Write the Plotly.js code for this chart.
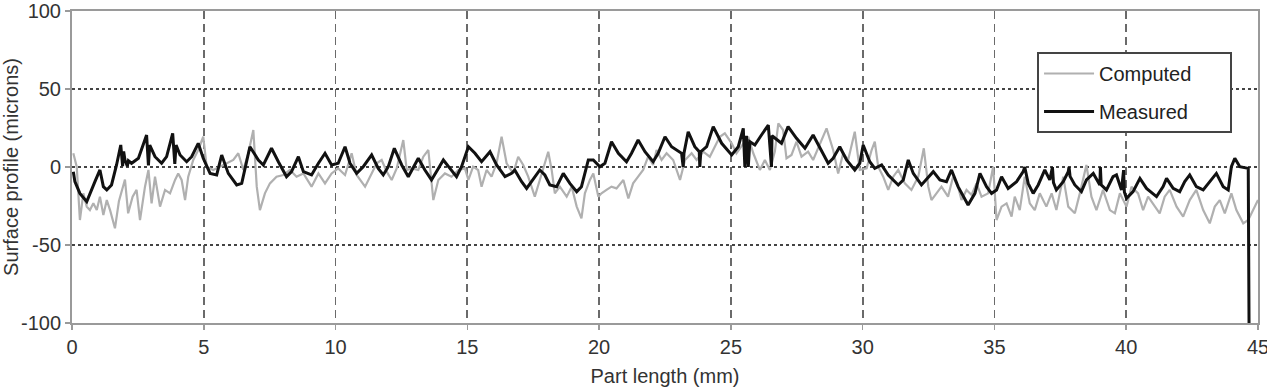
<!DOCTYPE html>
<html>
<head>
<meta charset="utf-8">
<script src="https://cdn.plot.ly/plotly-3.0.1.min.js"></script>
<style>html,body{margin:0;padding:0;background:#fff;}#chart{width:1267px;height:388px;}</style>
</head>
<body>
<div id="chart"></div>
<script>
// Computed surface profile (Part length mm, microns)
const computedX = [0.05,0.18,0.30,0.43,0.56,0.68,0.81,0.94,1.06,1.19,1.32,1.45,1.63,1.78,2.01,2.13,2.30,2.45,2.58,2.77,2.90,3.02,3.15,3.34,3.53,3.72,3.91,4.03,4.16,4.29,4.41,4.60,4.79,4.98,5.11,5.36,5.61,5.87,6.12,6.31,6.50,6.69,6.88,7.01,7.13,7.32,7.51,7.76,8.02,8.27,8.52,8.78,9.09,9.35,9.60,9.85,10.10,10.36,10.61,10.80,11.12,11.37,11.56,11.75,11.94,12.13,12.32,12.57,12.70,12.89,13.14,13.33,13.52,13.71,13.90,14.15,14.40,14.66,14.91,15.04,15.22,15.41,15.54,15.73,15.92,16.11,16.30,16.49,16.74,16.93,17.12,17.31,17.56,17.75,18.07,18.20,18.32,18.51,18.77,18.96,19.15,19.33,19.46,19.65,19.78,19.97,20.09,20.28,20.47,20.66,20.92,21.11,21.29,21.48,21.67,21.86,22.05,22.18,22.37,22.56,22.81,23.07,23.26,23.51,23.70,23.95,24.20,24.39,24.58,24.77,25.03,25.21,25.40,25.66,25.85,26.10,26.29,26.48,26.67,26.80,26.98,27.11,27.30,27.49,27.68,27.93,28.12,28.38,28.63,28.88,29.07,29.26,29.45,29.70,29.89,30.15,30.34,30.46,30.59,30.78,30.97,31.16,31.35,31.60,31.85,32.11,32.32,32.49,32.61,32.80,32.99,33.24,33.43,33.62,33.75,33.94,34.13,34.32,34.51,34.76,34.95,35.08,35.27,35.46,35.65,35.77,35.96,36.15,36.34,36.53,36.72,36.97,37.17,37.35,37.61,37.80,38.05,38.24,38.49,38.68,38.87,39.12,39.38,39.57,39.76,40.01,40.20,40.45,40.64,40.83,41.02,41.27,41.46,41.65,41.91,42.16,42.41,42.66,42.92,43.17,43.36,43.55,43.74,43.99,44.18,44.44,44.63,44.82,45.00];
const computedY = [8.8,0.2,-34.0,-16.9,-25.4,-27.6,-23.3,-27.6,-19.0,-30.8,-21.2,-28,-39.3,-22,-8,-29.7,-19,-14.7,-34.0,-12.6,-1.9,-23.3,-6.2,-25.4,-14.7,-16.9,-8.3,-4.1,-8.3,-21.2,-6.2,4.5,10.9,19.4,0.2,-1.9,0.2,2.4,4.5,8.8,-1.9,8.8,23.7,-12.6,-27.6,-16.9,-10.5,-6.2,-5.1,-1.9,-6.2,-4.1,-12.6,-4.1,-10.5,-4.1,-0.9,-5.1,8.8,-5.1,-12.6,-4.1,2.4,4.5,-3.0,-8.3,-0.9,17.3,-1.9,-0.9,-1.9,6.6,10.9,-21.2,-8.3,-4.1,-6.2,-1.9,-0.9,-8.3,0.2,-1.9,-12.6,-1.9,-6.2,2.4,19.4,2.4,-4.1,6.6,1.3,-6.2,-19.0,-8.3,9.8,-1.9,-16.9,-12.6,-19.0,-12.6,-25.4,-32.9,-16.9,-8.3,-4.1,-19.0,-16.9,-14.7,-12.6,-13.7,-8.3,-20.1,-10.5,-6.2,-1.9,6.6,1.3,10.9,4.5,8.8,4.5,-8.3,4.5,8.8,4.5,9.8,6.6,13.0,19.4,21.6,15.2,8.8,13.0,19.4,8.8,-1.9,4.5,-1.9,10,28.0,23.7,5.6,7.7,16.2,6.6,9.8,4.5,15.2,24.8,10.9,-4.1,8.8,4.5,22.6,-1.9,-0.9,10.9,16.2,0.2,-6.2,-14.7,-6.2,-1.9,-10.5,-14.7,-6.2,12.0,-12.6,-21.2,-16.9,-12.6,-19.0,-6.2,-12.6,-21.2,-14.7,-17.9,-10.5,-19.0,-16.9,0.2,-34.0,-25.4,-23.3,-31.8,-19.0,-27.6,-6.2,-23.3,-27.6,-16.9,-25.4,-16.9,-27.6,-6.2,-25.4,-29.7,-16.9,1.3,-19.0,-27.6,-14.7,-27.6,-29.7,-16.9,-25.4,-12.6,-16.9,-27.6,-19.0,-23.3,-29.7,-19.0,-14.7,-25.4,-31.8,-21.2,-14.7,-27.6,-36.1,-25.4,-21.2,-29.7,-16.9,-27.6,-36.1,-34.0,-27.6,-21.2];

// Measured surface profile
const measuredX = [0.05,0.11,0.30,0.56,0.87,1.06,1.19,1.32,1.50,1.69,1.85,1.92,1.96,2.01,2.10,2.14,2.26,2.52,2.83,2.90,2.95,3.15,3.40,3.59,3.82,3.90,3.95,4.10,4.35,4.54,4.79,4.98,5.24,5.49,5.68,5.93,6.25,6.44,6.75,7.07,7.26,7.57,7.83,8.14,8.33,8.59,8.78,9.09,9.35,9.60,9.85,10.10,10.36,10.55,10.80,11.05,11.37,11.62,11.81,12.00,12.23,12.51,12.76,13.01,13.14,13.39,13.64,13.90,14.09,14.34,14.59,14.78,15.04,15.29,15.54,15.86,16.11,16.43,16.68,16.80,17.06,17.25,17.56,17.75,17.94,18.13,18.39,18.64,18.89,19.15,19.33,19.59,19.78,20.03,20.22,20.47,20.73,21.04,21.23,21.48,21.74,22.05,22.24,22.50,22.75,23.13,23.19,23.22,23.38,23.63,23.80,23.82,23.86,24.08,24.33,24.65,25.03,25.28,25.47,25.53,25.59,25.66,25.72,25.91,26.16,26.42,26.54,26.56,26.92,27.17,27.49,27.81,28.12,28.38,28.69,28.88,29.13,29.39,29.70,29.89,30.02,30.27,30.46,30.72,30.97,31.35,31.54,31.73,31.92,32.23,32.49,32.68,32.93,33.18,33.37,33.62,34.00,34.26,34.45,34.70,34.89,35.08,35.27,35.52,35.84,36.09,36.15,36.20,36.28,36.47,36.66,36.91,37.10,37.20,37.24,37.35,37.61,37.80,37.83,37.87,38.05,38.30,38.49,38.75,39.00,39.02,39.05,39.25,39.50,39.63,39.82,39.90,39.93,40.01,40.26,40.52,40.77,41.15,41.40,41.53,41.78,42.03,42.22,42.41,42.66,42.92,43.17,43.42,43.68,43.87,43.99,44.12,44.31,44.63,44.66];
const measuredY = [-3.0,-9.4,-16.9,-22.2,-9.4,-1.9,-12.6,-14.7,-11.5,1.3,14.1,0.5,10,4.5,0.5,4,2.4,5.6,20.5,1,14,6.6,2.4,6.6,21.6,2,14,7.7,3.4,6.6,15.2,5.6,-4.1,-5.1,7.7,-4.1,-11.5,-10.5,13.0,4.5,1.3,12.0,3.4,-6.2,-3.0,6.6,-3.0,-5.1,2.4,8.8,1.3,2.4,13.0,2.4,-4.1,0.2,7.7,-0.9,-5.1,0.2,12.0,1.3,-6.2,1.3,5.6,-1.9,-8.3,-0.9,4.5,-0.9,-6.2,0.2,13.0,8.8,3.4,9.8,1.3,-6.2,-4.1,-1.9,-9.4,-13.7,-6.2,-1.9,-5.1,-11.5,-12.6,-4.1,-10.5,-15.8,-12.6,4.5,4.5,0.2,2.4,16.2,8.8,3.4,8.8,17.3,9.8,3.4,8.8,19.4,13.0,8.8,0,8.8,22.6,13.0,9.8,0,9.8,13.0,25.9,15.2,7.7,13.0,24.8,0,20,0,16.2,14.1,20.5,26.9,0,20,15.2,25.9,18.4,12.0,20.5,12.0,2.4,5.6,13.0,4.5,-1.9,2.4,14.1,3.4,-0.9,1.3,-5.1,-11.5,-8.3,4.5,-4.1,-11.5,-6.2,-3.0,-8.3,-9.4,-1.9,-12.6,-24.4,-16.9,-4.1,-12.6,-16.9,-14.7,-6.2,-13.7,-9.4,-3.0,0,-5,-10.5,-16.9,-11.5,-1.9,-8.3,0,-10,-14.7,-9.4,-3.0,0,-6,-11.5,-15.8,-8.3,-4.1,-11.5,0,-11.5,-14.7,-6.2,-5.1,-14.7,-2,-16,-20.1,-15.8,-7.3,-13.7,-19.0,-12.6,-7.3,-13.7,-15.8,-9.4,-5.1,-12.6,-14.7,-9.4,-4.1,-12.6,-14.7,0.2,5.6,0.2,-0.9,-100];

const seriesNames = ["Computed", "Measured"];
const xTickVals = [0,5,10,15,20,25,30,35,40,45];
const yTickVals = [-100,-50,0,50,100];
const yTickText = ["-100","-50","0","50","100"];

const pad = "\u00a0\u00a0\u00a0\u00a0\u00a0\u00a0";
const traces = [
  {x: computedX, y: computedY, name: seriesNames[0] + pad, type: "scatter", mode: "lines",
   line: {color: "#b0b0b0", width: 2.2}, legendgroup: "a"},
  {x: measuredX, y: measuredY, name: seriesNames[1] + pad, type: "scatter", mode: "lines",
   line: {color: "#111111", width: 3}, legendgroup: "b"}
];

const layout = {
  width: 1267, height: 388,
  margin: {l: 72, r: 9, t: 11, b: 65},
  paper_bgcolor: "#ffffff", plot_bgcolor: "#ffffff",
  font: {family: "Liberation Sans, Arial, sans-serif", size: 20, color: "#333333"},
  showlegend: true,
  legend: {x: 0.8137, y: 0.8686, xanchor: "left", yanchor: "top",
    bgcolor: "#ffffff", bordercolor: "#444444", borderwidth: 2,
    font: {size: 20, color: "#222222"}, itemwidth: 50, tracegroupgap: 9,
    traceorder: "grouped"},
  xaxis: {
    range: [0, 45], tickmode: "array", tickvals: xTickVals,
    showline: true, linecolor: "#9a9a9a", linewidth: 2, mirror: true,
    ticks: "outside", ticklen: 5, tickcolor: "#9a9a9a", tickwidth: 1.5,
    showgrid: true, gridcolor: "#6a6a6a", gridwidth: 1.8, griddash: "8px,5px",
    zeroline: false, tickfont: {size: 20, color: "#333333"},
    ticklabeloverflow: "allow",
    title: {text: "Part length (mm)", font: {size: 20, color: "#333333"}, standoff: 12}
  },
  yaxis: {
    range: [-100, 100], tickmode: "array", tickvals: yTickVals, ticktext: yTickText,
    showline: true, linecolor: "#9a9a9a", linewidth: 2, mirror: true,
    ticks: "outside", ticklen: 5, tickcolor: "#9a9a9a", tickwidth: 1.5,
    showgrid: true, gridcolor: "#444444", gridwidth: 1.2, griddash: "dot",
    zeroline: false, tickfont: {size: 20, color: "#333333"},
    title: {text: "Surface profile (microns)", font: {size: 20, color: "#333333"}, standoff: 2}
  }
};

Plotly.newPlot("chart", traces, layout, {displayModeBar: false, staticPlot: true});
</script>
</body>
</html>
